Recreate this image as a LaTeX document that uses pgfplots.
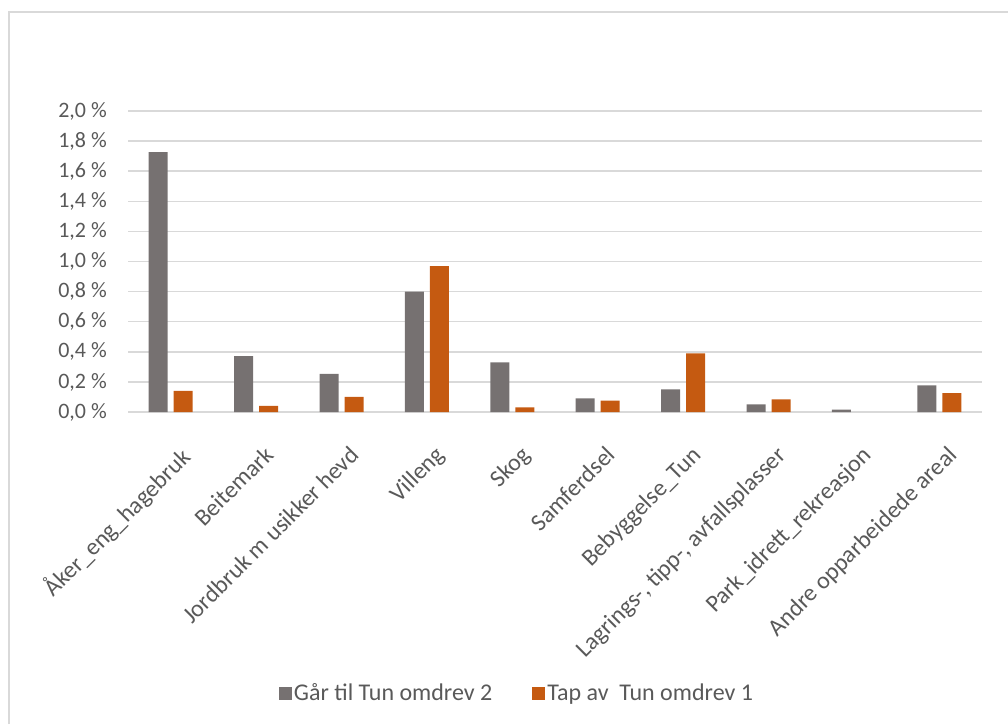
\documentclass[border=0pt]{standalone}
\usepackage{pgfplots}
\pgfplotsset{compat=1.18}
\usepackage{fontspec}
\setmainfont{Carlito}
\definecolor{txt}{HTML}{595959}
\definecolor{gridc}{HTML}{D9D9D9}
\definecolor{bgray}{HTML}{767171}
\definecolor{borange}{HTML}{C55A11}
\begin{document}
\begin{tikzpicture}
\useasboundingbox (0,0) rectangle (1008pt,724pt);
\draw[gridc, line width=2.5pt] (9pt,0) -- (9pt,712pt) -- (1008pt,712pt);
\begin{axis}[
  at={(128pt,312pt)}, anchor=south west,
  scale only axis, width=854pt, height=301pt,
  ybar=6pt, bar width=19pt,
  xmin=-0.5, xmax=9.5, ymin=0, ymax=2.0,
  ytick={0,0.2,0.4,0.6,0.8,1.0,1.2,1.4,1.6,1.8,2.0},
  yticklabels={{0,0 \%},{0,2 \%},{0,4 \%},{0,6 \%},{0,8 \%},{1,0 \%},{1,2 \%},{1,4 \%},{1,6 \%},{1,8 \%},{2,0 \%}},
  xtick={0,...,9},
  xticklabels={{Åker\_eng\_hagebruk},{Beitemark},{Jordbruk m usikker hevd},{Villeng},{Skog},{Samferdsel},{Bebyggelse\_Tun},{Lagrings-, tipp-, avfallsplasser},{Park\_idrett\_rekreasjon},{Andre opparbeidede areal}},
  major tick length=0pt,
  axis line style={draw=none},
  ymajorgrids, grid style={gridc, line width=1.5pt},
  tick label style={font=\fontsize{22}{26}\selectfont, text=txt},
  yticklabel style={anchor=east, inner sep=0pt, xshift=-21pt},
  xticklabel style={font=\fontsize{24}{28}\selectfont, rotate=45, anchor=north east, inner sep=0pt, xshift=-18pt, yshift=-28pt},
  legend style={at={(0.4555,-0.9336)}, anchor=center, draw=none, fill=none,
    legend columns=2, font=\fontsize{24}{28}\selectfont, text=txt,
    /tikz/every even column/.append style={column sep=38pt}},
  legend image code/.code={\fill[#1] (0pt,-6.5pt) rectangle (13pt,6.5pt);},
]
\addplot[fill=bgray, draw=none] coordinates {(0,1.726) (1,0.372) (2,0.253) (3,0.800) (4,0.330) (5,0.090) (6,0.150) (7,0.050) (8,0.015) (9,0.177)};
\addplot[fill=borange, draw=none] coordinates {(0,0.141) (1,0.040) (2,0.100) (3,0.970) (4,0.030) (5,0.075) (6,0.390) (7,0.084) (9,0.126)};
\legend{Går til Tun omdrev 2, Tap av\ \ Tun omdrev 1}
\end{axis}
\end{tikzpicture}
\end{document}
